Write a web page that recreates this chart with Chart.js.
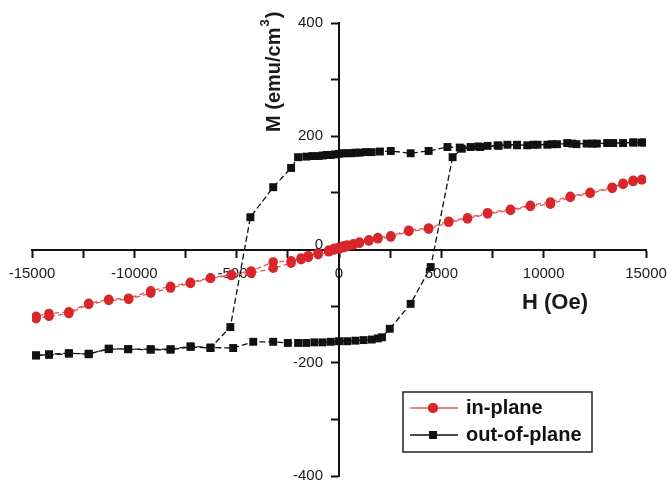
<!DOCTYPE html>
<html>
<head>
<meta charset="utf-8">
<script src="https://cdn.jsdelivr.net/npm/chart.js@4.4.1/dist/chart.umd.min.js"></script>
<style>
html,body{margin:0;padding:0;background:#fff;}
#wrap{position:relative;width:667px;height:484px;}
</style>
</head>
<body>
<div id="wrap"><canvas id="c" width="667" height="484"></canvas></div>
<script>
// ---- data ----
const xTickValues = [-15000, -10000, -5000, 0, 5000, 10000, 15000];
const yTickValues = [-400, -200, 0, 200, 400];
const seriesNames = ["in-plane", "out-of-plane"];

// in-plane: descending branch then ascending branch
const inPlaneH = [14800, 14370, 13880, 13350, 12270, 11300, 10330, 9350, 8380, 7260, 6280, 5360, 4380, 3410, 2530, 1900, 1460, 1000, 700, 400, 200, 0, -240, -500, -1020, -1500, -1850, -2340, -3215, -4290, -5260, -6280, -7260, -8230, -9200, -10280, -11250, -12230, -13200, -14170, -14800,
  -14800, -14170, -13200, -12230, -11250, -10280, -9200, -8230, -7260, -6280, -5260, -4290, -3215, -2340, -1850, -1500, -1020, -500, -240, 0, 200, 400, 700, 1000, 1460, 1900, 2530, 3410, 4380, 5360, 6280, 7260, 8380, 9350, 10330, 11300, 12270, 13350, 13880, 14370, 14800];
const inPlaneM = [124, 122, 117, 110, 101, 94, 84, 78, 71, 65, 56, 50, 38, 34, 24, 21, 17, 13, 10, 8, 6, 4, 2, -1, -6, -11, -15, -20, -22, -38, -44, -50, -58, -65, -73, -86, -88, -95, -110, -113, -118,
  -122, -118, -113, -97, -90, -88, -77, -68, -60, -51, -46, -42, -33, -24, -18, -14, -9, -4, -1, 1, 3, 5, 8, 11, 15, 19, 22, 32, 36, 48, 54, 63, 69, 76, 80, 92, 99, 108, 115, 120, 123];

// out-of-plane: descending branch then ascending branch
const outPlaneH = [14800, 14370, 13880, 13100, 12600, 12100, 11600, 11150, 10650, 10180, 9700, 9200, 8700, 8230, 7750, 7260, 6800, 6430, 5900, 5300, 4380, 3500, 2530, 2000, 1600, 1300, 1000, 800, 600, 400, 200, 0, -200, -400, -600, -800, -1000, -1300, -1600, -2000, -2340, -3215, -4330, -5310, -6280, -7250, -8230, -9200, -10300, -11250, -12230, -13200, -14170, -14800,
  -14800, -14170, -13200, -12230, -11250, -10300, -9200, -8230, -7250, -6280, -5170, -4190, -3215, -2500, -2000, -1600, -1200, -800, -400, 0, 400, 800, 1200, 1600, 1900, 2100, 2480, 3500, 4480, 5550, 6000, 6900, 7800, 8700, 9500, 10400, 11400, 12400, 13400, 14400, 14900];
const outPlaneM = [189, 189, 188, 188, 187, 187, 186, 188, 186, 185, 185, 184, 185, 185, 184, 183, 182, 181, 180, 181, 174, 170, 174, 173, 172, 172, 171, 171, 170, 170, 170, 169, 168, 167, 167, 166, 165, 165, 164, 163, 144, 110, 57, -137, -174, -172, -177, -177, -176, -176, -184, -184, -186, -187,
  -187, -185, -183, -185, -175, -176, -176, -176, -171, -173, -174, -163, -163, -165, -165, -165, -164, -164, -163, -162, -162, -161, -160, -159, -157, -155, -140, -96, -31, 163, 178, 181, 183, 184, 185, 186, 187, 187, 188, 189, 189];

const xTitle = "H (Oe)";
const yTitleMain = "M (emu/cm";
const yTitleSup = "3";
const yTitleEnd = ")";

// ---- styles ----
const RED = "#d9262b";
const RED_LINE = "#e0585c";
const BLACK = "#111111";
const FONT = "'Liberation Sans', Arial, sans-serif";

function pts(hs, ms) { return hs.map((h, i) => ({x: h, y: ms[i]})); }

const overlay = {
  id: 'overlay',
  afterDraw(chart) {
    const ctx = chart.ctx;
    const xs = chart.scales.x, ys = chart.scales.y;
    ctx.save();
    // y tick labels (left of the centred axis)
    const axX = xs.getPixelForValue(0);
    ctx.fillStyle = "#1a1a1a";
    ctx.font = "15px " + FONT;
    ctx.textAlign = "right";
    ctx.textBaseline = "middle";
    yTickValues.forEach(v => {
      const py = ys.getPixelForValue(v) + (v === 0 ? -5 : 0);
      ctx.fillText(String(v), axX - 16, py);
    });
    // x title
    ctx.fillStyle = "#1a1a1a";
    ctx.font = "bold 22px " + FONT;
    ctx.textAlign = "center";
    ctx.textBaseline = "middle";
    ctx.fillText(xTitle, 555, 303);
    // y title rotated
    ctx.save();
    ctx.translate(274, 132);
    ctx.rotate(-Math.PI / 2);
    ctx.textAlign = "left";
    ctx.textBaseline = "middle";
    ctx.font = "bold 20px " + FONT;
    ctx.fillText(yTitleMain, 0, 0);
    let w = ctx.measureText(yTitleMain).width;
    ctx.font = "bold 13px " + FONT;
    ctx.fillText(yTitleSup, w + 1, -9);
    let w2 = ctx.measureText(yTitleSup).width;
    ctx.font = "bold 20px " + FONT;
    ctx.fillText(yTitleEnd, w + w2 + 2, 0);
    ctx.restore();
    // legend
    const bx = 403, by = 392, bw = 189, bh = 60;
    ctx.fillStyle = "#fff";
    ctx.fillRect(bx, by, bw, bh);
    ctx.strokeStyle = "#222";
    ctx.lineWidth = 1.5;
    ctx.strokeRect(bx, by, bw, bh);
    const rows = [
      {y: 408, line: RED_LINE, fill: RED, style: 'circle', r: 5, name: seriesNames[0]},
      {y: 435, line: BLACK, fill: BLACK, style: 'rect', r: 5.5, name: seriesNames[1]}
    ];
    rows.forEach(rw => {
      ctx.strokeStyle = rw.line;
      ctx.lineWidth = 1.5;
      ctx.beginPath();
      ctx.moveTo(410, rw.y);
      ctx.lineTo(458, rw.y);
      ctx.stroke();
      ctx.fillStyle = rw.fill;
      Chart.helpers.drawPoint(ctx, {pointStyle: rw.style, radius: rw.r, borderWidth: 0, rotation: 0}, 433, rw.y);
      ctx.fill();
      ctx.fillStyle = "#111";
      ctx.font = "bold 20px " + FONT;
      ctx.textAlign = "left";
      ctx.textBaseline = "middle";
      ctx.fillText(rw.name, 466, rw.y);
    });
    ctx.restore();
  }
};

new Chart(document.getElementById('c'), {
  type: 'scatter',
  data: {
    datasets: [
      {
        label: seriesNames[0],
        data: pts(inPlaneH, inPlaneM),
        showLine: true,
        borderColor: RED_LINE,
        borderWidth: 1.3,
        borderDash: [5, 3],
        backgroundColor: RED,
        pointBackgroundColor: RED,
        pointBorderColor: RED,
        pointBorderWidth: 0,
        pointStyle: 'circle',
        pointRadius: 4.8,
        tension: 0
      },
      {
        label: seriesNames[1],
        data: pts(outPlaneH, outPlaneM),
        showLine: true,
        borderColor: BLACK,
        borderWidth: 1.3,
        borderDash: [6, 3],
        backgroundColor: BLACK,
        pointBackgroundColor: BLACK,
        pointBorderColor: BLACK,
        pointBorderWidth: 0,
        pointStyle: 'rect',
        pointRadius: 5.6,
        tension: 0
      }
    ]
  },
  options: {
    responsive: false,
    animation: false,
    layout: {padding: {left: 32, right: 21, top: 23, bottom: 8}},
    plugins: {legend: {display: false}, tooltip: {enabled: false}, title: {display: false}},
    scales: {
      x: {
        type: 'linear',
        min: -15000, max: 15000,
        position: {y: 0},
        afterFit: (s) => { s.paddingLeft = 0; s.paddingRight = 0; },
        grid: {drawOnChartArea: false, drawTicks: true, tickLength: 7, tickWidth: 2, tickColor: "#111"},
        border: {display: true, color: "#111", width: 2},
        ticks: {
          stepSize: 2500,
          padding: 8,
          color: "#1a1a1a",
          font: {family: FONT, size: 15},
          maxRotation: 0,
          autoSkip: false,
          callback: (v) => xTickValues.includes(v) ? String(v) : ''
        }
      },
      y: {
        type: 'linear',
        min: -400, max: 400,
        position: {x: 0},
        afterFit: (s) => { s.paddingTop = 0; s.paddingBottom = 0; },
        grid: {drawOnChartArea: false, drawTicks: true, tickLength: 7, tickWidth: 2, tickColor: "#111"},
        border: {display: true, color: "#111", width: 2},
        ticks: {
          stepSize: 100,
          display: false,
          autoSkip: false
        }
      }
    }
  },
  plugins: [overlay]
});
</script>
</body>
</html>
